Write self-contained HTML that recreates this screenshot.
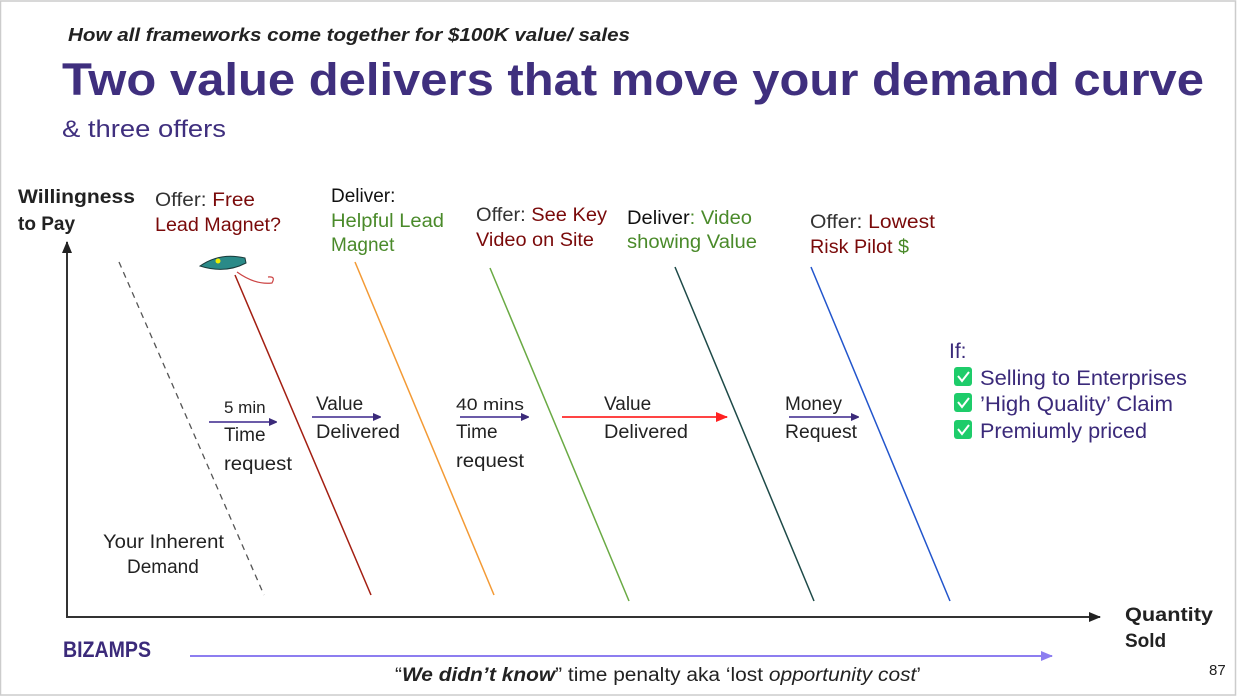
<!DOCTYPE html>
<html><head><meta charset="utf-8"><style>
html,body{margin:0;padding:0;background:#fff}
svg{display:block}
text{font-family:"Liberation Sans","DejaVu Sans",sans-serif}
</style></head><body>
<svg width="1239" height="698" viewBox="0 0 1239 698" xmlns="http://www.w3.org/2000/svg">
<defs>
<marker id="ap" markerWidth="8" markerHeight="8" refX="7" refY="4" orient="auto" markerUnits="userSpaceOnUse"><path d="M0,0 L9,4 L0,8 z" fill="#3b2a7a"/></marker>
<marker id="ar" markerWidth="12" markerHeight="10" refX="11" refY="5" orient="auto" markerUnits="userSpaceOnUse"><path d="M0,0 L12,5 L0,10 z" fill="#f22"/></marker>
<marker id="ak" markerWidth="12" markerHeight="10" refX="11" refY="5" orient="auto" markerUnits="userSpaceOnUse"><path d="M0,0 L12,5 L0,10 z" fill="#222"/></marker>
<marker id="al" markerWidth="12" markerHeight="10" refX="11" refY="5" orient="auto" markerUnits="userSpaceOnUse"><path d="M0,0 L12,5 L0,10 z" fill="#8d7ef0"/></marker>
</defs>
<rect x="0.5" y="1" width="1235" height="694" fill="#fff" stroke="#ccc" stroke-width="1.5"/>
<text x="68" y="41" font-size="18" font-weight="bold" font-style="italic" fill="#222" textLength="562" lengthAdjust="spacingAndGlyphs">How all frameworks come together for $100K value/ sales</text>
<text x="62" y="95" font-size="45" font-weight="bold" fill="#3f2f7e" textLength="1142" lengthAdjust="spacingAndGlyphs">Two value delivers that move your demand curve</text>
<text x="62" y="137" font-size="24" fill="#3f2f7e" textLength="164" lengthAdjust="spacingAndGlyphs">&amp; three offers</text>

<!-- axes -->
<line x1="67" y1="617" x2="67" y2="242" stroke="#333" stroke-width="2" marker-end="url(#ak)"/>
<line x1="66" y1="617" x2="1100" y2="617" stroke="#333" stroke-width="2" marker-end="url(#ak)"/>
<text x="18" y="203" font-size="19" font-weight="bold" fill="#222" textLength="117" lengthAdjust="spacingAndGlyphs">Willingness</text>
<text x="18" y="230" font-size="19" font-weight="bold" fill="#222">to Pay</text>
<text x="1125" y="621" font-size="19" font-weight="bold" fill="#222" textLength="88" lengthAdjust="spacingAndGlyphs">Quantity</text>
<text x="1125" y="647" font-size="19" font-weight="bold" fill="#222">Sold</text>

<!-- curves -->
<line x1="119" y1="262" x2="264" y2="595" stroke="#555" stroke-width="1.3" stroke-dasharray="6,5"/>
<line x1="235" y1="275" x2="371" y2="595" stroke="#a31f12" stroke-width="1.5"/>
<line x1="355" y1="262" x2="494" y2="595" stroke="#f39a35" stroke-width="1.5"/>
<line x1="490" y1="268" x2="629" y2="601" stroke="#6aaa44" stroke-width="1.5"/>
<line x1="675" y1="267" x2="814" y2="601" stroke="#1e4a48" stroke-width="1.5"/>
<line x1="811" y1="267" x2="950" y2="601" stroke="#2255cc" stroke-width="1.5"/>

<!-- lure -->
<path d="M200,266 Q220,252 245,258 L246,263 Q225,274 200,266 z" fill="#2a8a88" stroke="#1a3a3a"/>
<circle cx="218" cy="261" r="2.5" fill="#ee0"/>
<path d="M237,272 Q255,285 272,283 Q276,276 268,277" fill="none" stroke="#c44" stroke-width="1.2"/>

<!-- labels top -->
<g font-size="19">
<text x="155" y="206" textLength="100" lengthAdjust="spacingAndGlyphs"><tspan fill="#333">Offer: </tspan><tspan fill="#7a0a0a">Free</tspan></text>
<text x="155" y="231" fill="#7a0a0a" textLength="126" lengthAdjust="spacingAndGlyphs">Lead Magnet?</text>
<text x="331" y="202" fill="#111">Deliver:</text>
<text x="331" y="227" fill="#4a8a2a" textLength="113" lengthAdjust="spacingAndGlyphs">Helpful Lead</text>
<text x="331" y="251" fill="#4a8a2a">Magnet</text>
<text x="476" y="221" textLength="131" lengthAdjust="spacingAndGlyphs"><tspan fill="#333">Offer: </tspan><tspan fill="#7a0a0a">See Key</tspan></text>
<text x="476" y="246" fill="#7a0a0a" textLength="118" lengthAdjust="spacingAndGlyphs">Video on Site</text>
<text x="627" y="224" textLength="125" lengthAdjust="spacingAndGlyphs"><tspan fill="#111">Deliver</tspan><tspan fill="#4a8a2a">: Video</tspan></text>
<text x="627" y="248" fill="#4a8a2a" textLength="130" lengthAdjust="spacingAndGlyphs">showing Value</text>
<text x="810" y="228" textLength="125" lengthAdjust="spacingAndGlyphs"><tspan fill="#333">Offer: </tspan><tspan fill="#7a0a0a">Lowest</tspan></text>
<text x="810" y="253" textLength="99" lengthAdjust="spacingAndGlyphs"><tspan fill="#7a0a0a">Risk Pilot </tspan><tspan fill="#4a8a2a">$</tspan></text>
</g>

<!-- arrows and middle labels -->
<g font-size="19" fill="#222">
<text x="224" y="413" font-size="17">5 min</text>
<line x1="209" y1="422" x2="276" y2="422" stroke="#6b5ba8" stroke-width="2" marker-end="url(#ap)"/>
<text x="224" y="441">Time</text>
<text x="224" y="470" textLength="68" lengthAdjust="spacingAndGlyphs">request</text>
<text x="316" y="410">Value</text>
<line x1="312" y1="417" x2="380" y2="417" stroke="#6b5ba8" stroke-width="2" marker-end="url(#ap)"/>
<text x="316" y="438" textLength="84" lengthAdjust="spacingAndGlyphs">Delivered</text>
<text x="456" y="410" font-size="17" textLength="68" lengthAdjust="spacingAndGlyphs">40 mins</text>
<line x1="460" y1="417" x2="528" y2="417" stroke="#6b5ba8" stroke-width="2" marker-end="url(#ap)"/>
<text x="456" y="438">Time</text>
<text x="456" y="467" textLength="68" lengthAdjust="spacingAndGlyphs">request</text>
<text x="604" y="410">Value</text>
<line x1="562" y1="417" x2="727" y2="417" stroke="#f44" stroke-width="2" marker-end="url(#ar)"/>
<text x="604" y="438" textLength="84" lengthAdjust="spacingAndGlyphs">Delivered</text>
<text x="785" y="410">Money</text>
<line x1="789" y1="417" x2="858" y2="417" stroke="#6b5ba8" stroke-width="2" marker-end="url(#ap)"/>
<text x="785" y="438" textLength="72" lengthAdjust="spacingAndGlyphs">Request</text>
<text x="103" y="548" textLength="121" lengthAdjust="spacingAndGlyphs">Your Inherent</text>
<text x="127" y="573">Demand</text>
</g>

<!-- If list -->
<g font-size="21" fill="#3b2a7a">
<text x="949" y="358">If:</text>
<rect x="954" y="367" width="18" height="19" rx="3" fill="#1ecc6a"/><path d="M958,376 l4,5 l7,-9" stroke="#fff" stroke-width="2" fill="none"/>
<text x="980" y="385" textLength="207" lengthAdjust="spacingAndGlyphs">Selling to Enterprises</text>
<rect x="954" y="393" width="18" height="19" rx="3" fill="#1ecc6a"/><path d="M958,402 l4,5 l7,-9" stroke="#fff" stroke-width="2" fill="none"/>
<text x="980" y="411" textLength="193" lengthAdjust="spacingAndGlyphs">’High Quality’ Claim</text>
<rect x="954" y="420" width="18" height="19" rx="3" fill="#1ecc6a"/><path d="M958,429 l4,5 l7,-9" stroke="#fff" stroke-width="2" fill="none"/>
<text x="980" y="438" textLength="167" lengthAdjust="spacingAndGlyphs">Premiumly priced</text>
</g>

<!-- bottom -->
<text x="63" y="657" font-size="22" font-weight="bold" fill="#3b2a7a" textLength="88" lengthAdjust="spacingAndGlyphs">BIZAMPS</text>
<line x1="190" y1="656" x2="1052" y2="656" stroke="#8d7ef0" stroke-width="2" marker-end="url(#al)"/>
<text x="395" y="681" font-size="19" fill="#222" textLength="526" lengthAdjust="spacingAndGlyphs">“<tspan font-weight="bold" font-style="italic">We didn’t know</tspan>” time penalty aka ‘lost <tspan font-style="italic">opportunity cost</tspan>’</text>
<text x="1209" y="675" font-size="15" fill="#222">87</text>
</svg>
</body></html>
